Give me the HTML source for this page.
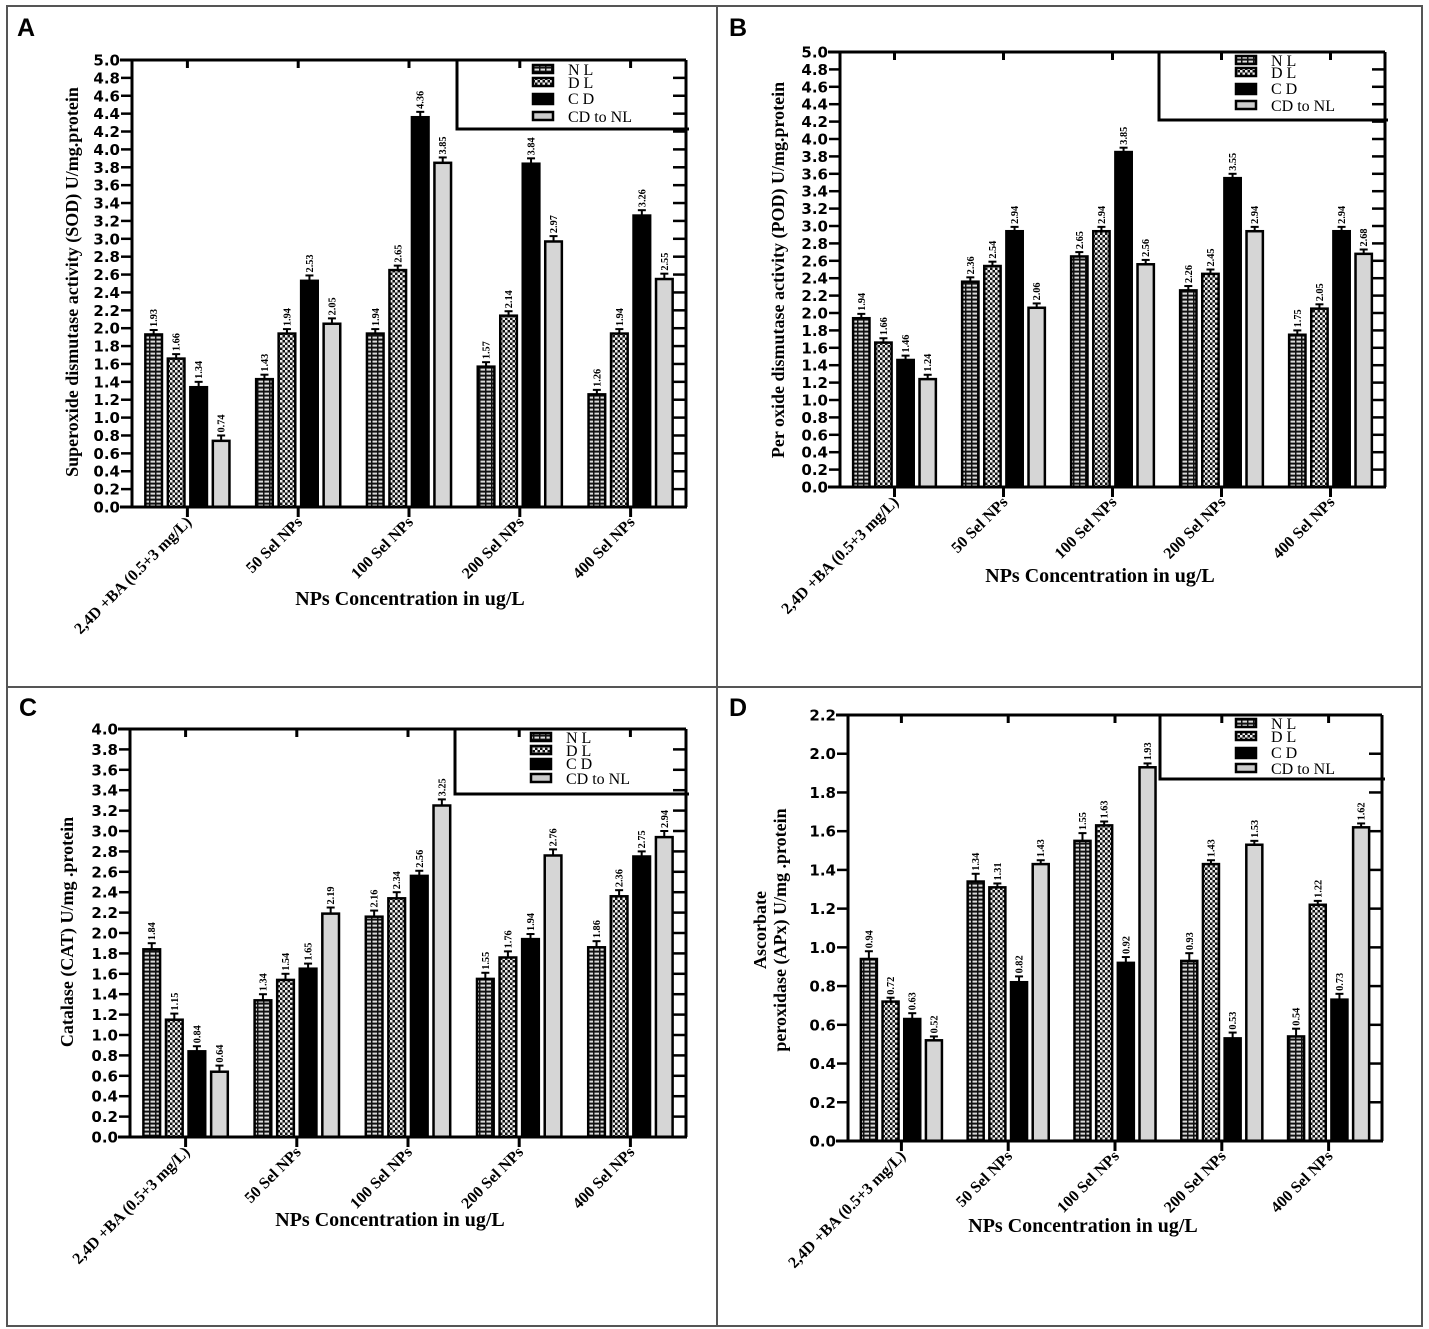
<!DOCTYPE html>
<html><head><meta charset="utf-8">
<style>
html,body{margin:0;padding:0;background:#fff;}
svg{display:block;}
.tk{font-family:"DejaVu Sans","Liberation Sans",sans-serif;font-weight:bold;font-size:15px;}
.ser{font-family:"Liberation Serif",serif;}
</style></head>
<body>
<svg id="fig" width="1429" height="1329" viewBox="0 0 1429 1329" xmlns="http://www.w3.org/2000/svg">
<defs>
<pattern id="patNL" width="6" height="4" patternUnits="userSpaceOnUse">
<rect width="6" height="4" fill="#111"/>
<rect x="0.5" y="0.6" width="4.5" height="2" fill="#ddd"/>
</pattern>
<pattern id="patDL" width="5" height="5" patternUnits="userSpaceOnUse">
<rect width="5" height="5" fill="#111"/>
<rect x="0" y="0" width="2.5" height="2.5" fill="#eee"/>
<rect x="2.5" y="2.5" width="2.5" height="2.5" fill="#eee"/>
</pattern>
</defs>
<rect x="7" y="6" width="1415" height="1320" fill="none" stroke="#555" stroke-width="2"/>
<line x1="717" y1="6" x2="717" y2="1326" stroke="#555" stroke-width="2"/>
<line x1="7" y1="687" x2="1422" y2="687" stroke="#555" stroke-width="2"/>
<g id="root"></g>
</svg>
<script>
const categories = ["2,4D +BA (0.5+3 mg/L)","50 Sel NPs","100 Sel NPs","200 Sel NPs","400 Sel NPs"];
const seriesNames = ["N L","D L","C D","CD to NL"];

const aNL = [1.93,1.43,1.94,1.57,1.26];
const aDL = [1.66,1.94,2.65,2.14,1.94];
const aCD = [1.34,2.53,4.36,3.84,3.26];
const aCDNL = [0.74,2.05,3.85,2.97,2.55];
const aErr = [0.05,0.05,0.06,0.06];

const bNL = [1.94,2.36,2.65,2.26,1.75];
const bDL = [1.66,2.54,2.94,2.45,2.05];
const bCD = [1.46,2.94,3.85,3.55,2.94];
const bCDNL = [1.24,2.06,2.56,2.94,2.68];
const bErr = [0.05,0.05,0.05,0.05];

const cNL = [1.84,1.34,2.16,1.55,1.86];
const cDL = [1.15,1.54,2.34,1.76,2.36];
const cCD = [0.84,1.65,2.56,1.94,2.75];
const cCDNL = [0.64,2.19,3.25,2.76,2.94];
const cErr = [0.06,0.06,0.05,0.06];

const dNL = [0.94,1.34,1.55,0.93,0.54];
const dDL = [0.72,1.31,1.63,1.43,1.22];
const dCD = [0.63,0.82,0.92,0.53,0.73];
const dCDNL = [0.52,1.43,1.93,1.53,1.62];
const dErr = [0.04,0.02,0.03,0.02];

const aTicks = [0,0.2,0.4,0.6,0.8,1.0,1.2,1.4,1.6,1.8,2.0,2.2,2.4,2.6,2.8,3.0,3.2,3.4,3.6,3.8,4.0,4.2,4.4,4.6,4.8,5.0];
const cTicks = [0,0.2,0.4,0.6,0.8,1.0,1.2,1.4,1.6,1.8,2.0,2.2,2.4,2.6,2.8,3.0,3.2,3.4,3.6,3.8,4.0];
const dTicks = [0,0.2,0.4,0.6,0.8,1.0,1.2,1.4,1.6,1.8,2.0,2.2];

const NS = "http://www.w3.org/2000/svg";
const root = document.getElementById('root');
function mk(tag, attrs, parent){
  const e = document.createElementNS(NS, tag);
  for (const k in attrs) e.setAttribute(k, attrs[k]);
  (parent||root).appendChild(e);
  return e;
}
const fills = ["url(#patNL)","url(#patDL)","#000","#d6d6d6"];

function panel(p){
  const g = mk('g', {});
  
  
  const yS = v => p.y0 - (v / p.max) * (p.y0 - p.y1);
  const catW = (p.xR - p.xL) / categories.length;
  const xC = i => p.xL + catW * (i + 0.5);

  const L = mk('text', {x:p.lx, y:p.ly, 'font-family':'"Liberation Sans",sans-serif','font-weight':'bold','font-size':'25'}, g);
  L.textContent = p.id;
  
  

  const series = p.series;
  const pitch = catW * 0.203, bw = catW * 0.15;
  series.forEach((vals, s) => {
    vals.forEach((v, i) => {
      const cx = xC(i) + (s - 1.5) * pitch;
      const top = yS(v);
      const r = mk('rect', {x:cx - bw/2, y:top, width:bw, height:p.y0 - top, fill:fills[s], stroke:'#000','stroke-width':'2.5'}, g);
      
      
      const et = yS(v + p.err[s]);
      mk('line', {x1:cx, y1:top, x2:cx, y2:et, stroke:'#000','stroke-width':'2'}, g);
      mk('line', {x1:cx-4, y1:et, x2:cx+4, y2:et, stroke:'#000','stroke-width':'2'}, g);
      const t = mk('text', {x:0, y:0, transform:'translate(' + (cx+3.5) + ',' + (et-3) + ') rotate(-90)', 'font-family':'"Liberation Serif",serif','font-size':'10','font-weight':'bold','textLength':'18','lengthAdjust':'spacingAndGlyphs'}, g);
      t.textContent = v.toFixed(2);
      
      
    });
  });

  mk('line', {x1:p.xL, y1:p.y1, x2:p.xL, y2:p.y0+1, stroke:'#000','stroke-width':'3'}, g);
  mk('line', {x1:p.xL-12, y1:p.y0, x2:p.xR+1, y2:p.y0, stroke:'#000','stroke-width':'3'}, g);
  mk('line', {x1:p.xL-12, y1:p.y1, x2:p.xR, y2:p.y1, stroke:'#000','stroke-width':'3'}, g);
  mk('line', {x1:p.xR, y1:p.y1, x2:p.xR, y2:p.y0, stroke:'#000','stroke-width':'3'}, g);

  p.ticks.forEach(v => {
    const y = yS(v);
    mk('line', {x1:p.xL-11, y1:y, x2:p.xL, y2:y, stroke:'#000','stroke-width':'2.5'}, g);
    mk('line', {x1:p.xR-13, y1:y, x2:p.xR, y2:y, stroke:'#000','stroke-width':'2.5'}, g);
    const t = mk('text', {x:p.xL-12, y:y+5.5, 'text-anchor':'end', class:'tk'}, g);
    t.textContent = v.toFixed(1);
    
    
  });

  categories.forEach((c, i) => {
    const x = xC(i);
    mk('line', {x1:x, y1:p.y0, x2:x, y2:p.y0+10, stroke:'#000','stroke-width':'3'}, g);
    mk('line', {x1:x, y1:p.y1, x2:x, y2:p.y1+8, stroke:'#000','stroke-width':'3'}, g);
    const t = mk('text', {x:0, y:0, transform:'translate(' + (x+5) + ',' + (p.y0+16) + ') rotate(-45)', 'text-anchor':'end', class:'ser','font-weight':'bold','font-size':'16'}, g);
    t.textContent = c;
    
    
  });

  const xt = mk('text', {x:p.xtx, y:p.xty, 'text-anchor':'middle', class:'ser','font-weight':'bold','font-size':'20'}, g);
  xt.textContent = 'NPs Concentration in ug/L';
  
  

  p.ytitle.forEach((line, k) => {
    const yt = mk('text', {x:0, y:0, transform:'translate(' + (p.ytx + k*20) + ',' + p.yty + ') rotate(-90)', 'text-anchor':'middle', class:'ser','font-weight':'bold','font-size':'18'}, g);
    yt.textContent = line;
    
    
  });

  const lg = p.leg;
  mk('path', {d:'M' + lg.x + ',' + p.y1 + ' L' + lg.x + ',' + lg.b + ' L' + (p.xR+3) + ',' + lg.b, fill:'none', stroke:'#000','stroke-width':'3'}, g);
  seriesNames.forEach((n, s) => {
    const y = lg.rows[s];
    const sw = mk('rect', {x:lg.sx, y:y-5, width:20, height:s===2?10:8, fill:s===2?'#000':(s===3?'#ccc':fills[s]), stroke:'#000','stroke-width':'2.5'}, g);
    
    
    const t = mk('text', {x:lg.sx+35, y:y+5, class:'ser','font-size':'16'}, g);
    t.textContent = n;
    
    
  });
}

panel({id:'A', lx:17, ly:36, xL:132, xR:686, y1:60, y0:507, max:5, ticks:aTicks,
  series:[aNL,aDL,aCD,aCDNL], err:aErr, xtx:410, xty:605,
  ytitle:['Superoxide dismutase activity (SOD) U/mg.protein'], ytx:78, yty:282,
  leg:{x:457, b:129, sx:533, rows:[70,83,99,117]}});
panel({id:'B', lx:729, ly:36, xL:840, xR:1385, y1:52, y0:487, max:5, ticks:aTicks,
  series:[bNL,bDL,bCD,bCDNL], err:bErr, xtx:1100, xty:582,
  ytitle:['Per oxide dismutase activity (POD) U/mg.protein'], ytx:784, yty:270,
  leg:{x:1159, b:120, sx:1236, rows:[61,73,89,106]}});
panel({id:'C', lx:19, ly:716, xL:130, xR:686, y1:729, y0:1137, max:4, ticks:cTicks,
  series:[cNL,cDL,cCD,cCDNL], err:cErr, xtx:390, xty:1226,
  ytitle:['Catalase (CAT) U/mg .protein'], ytx:73, yty:932,
  leg:{x:455, b:794, sx:531, rows:[738,751,764,779]}});
panel({id:'D', lx:729, ly:716, xL:848, xR:1382, y1:715, y0:1141, max:2.2, ticks:dTicks,
  series:[dNL,dDL,dCD,dCDNL], err:dErr, xtx:1083, xty:1232,
  ytitle:['Ascorbate','peroxidase (APx) U/mg .protein'], ytx:766, yty:930,
  leg:{x:1160, b:779, sx:1236, rows:[724,737,753,769]}});
</script>
</body></html>
